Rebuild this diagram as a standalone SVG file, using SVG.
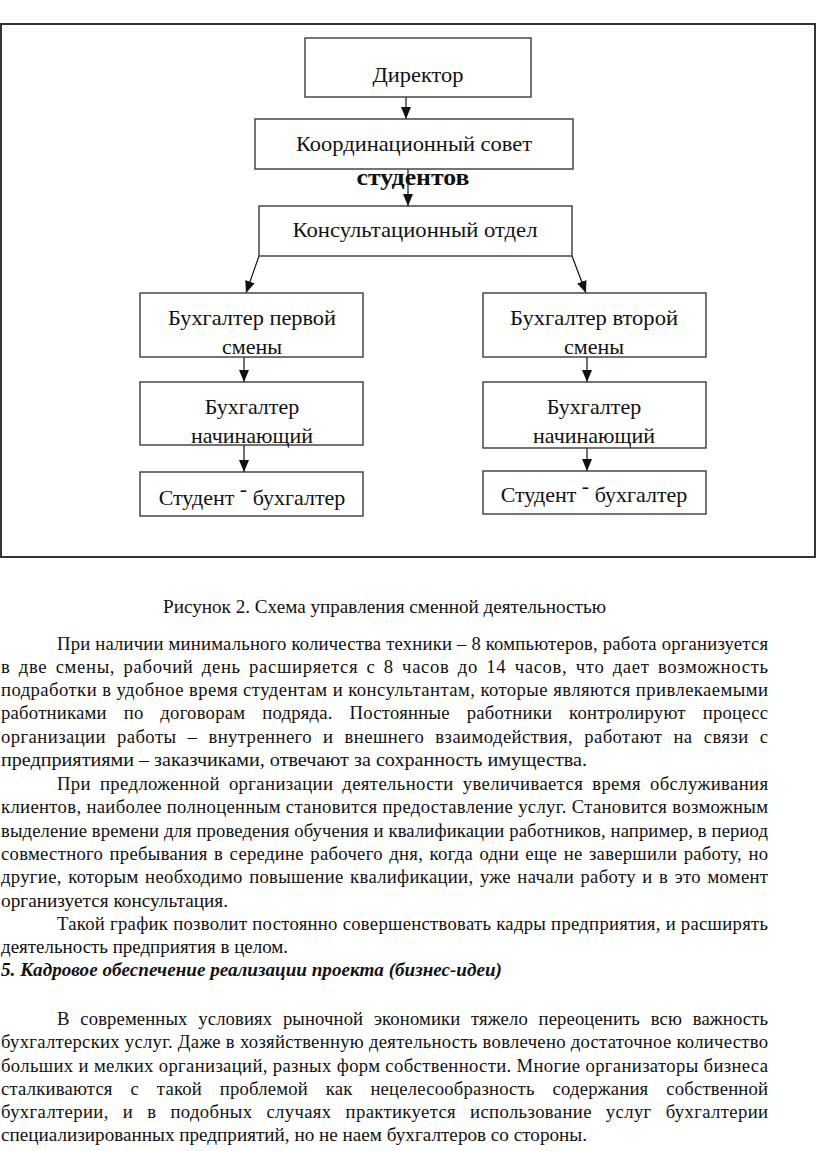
<svg xmlns="http://www.w3.org/2000/svg" width="816" height="1151" viewBox="0 0 816 1151">
<style>
.frame{fill:none;stroke:#333;stroke-width:2}
.box{fill:#fff;stroke:#3a3a3a;stroke-width:1.4}
.lbl{font-family:"Liberation Serif","Times New Roman",serif;font-size:22px;fill:#111;text-anchor:middle}
.bold{font-weight:bold;font-size:24px}
.conn{fill:none;stroke:#111;stroke-width:1.2}
.body{font-family:"Liberation Serif","Times New Roman",serif;font-size:18.67px;fill:#111}
.head{font-weight:bold;font-style:italic}
</style>
<defs>
<marker id="arrd" markerUnits="userSpaceOnUse" markerWidth="12" markerHeight="10" viewBox="0 0 12 10" refX="12" refY="5" orient="auto">
<path d="M0,0 L12,5 L0,10 Z" fill="#111"/>
</marker>
</defs>
<rect class="frame" x="1" y="24" width="814" height="533"/>
<g id="connectors">
<line class="conn" x1="406" y1="97" x2="406" y2="119" marker-end="url(#arrd)"/>
<line class="conn" x1="408" y1="169" x2="408" y2="206" marker-end="url(#arrd)"/>
<line class="conn" x1="259" y1="256" x2="246" y2="293" marker-end="url(#arrd)"/>
<line class="conn" x1="572" y1="256" x2="586" y2="293" marker-end="url(#arrd)"/>
<line class="conn" x1="244" y1="357" x2="244" y2="382" marker-end="url(#arrd)"/>
<line class="conn" x1="244" y1="445" x2="244" y2="472" marker-end="url(#arrd)"/>
<line class="conn" x1="587" y1="357" x2="587" y2="382" marker-end="url(#arrd)"/>
<line class="conn" x1="587" y1="448" x2="587" y2="471" marker-end="url(#arrd)"/>
</g>
<g id="director">
<rect class="box" x="305" y="38" width="226" height="59"/>
<text class="lbl" x="418" y="82" textLength="91" lengthAdjust="spacingAndGlyphs">Директор</text>
</g>
<g id="coord-council">
<rect class="box" x="255" y="119" width="318" height="50"/>
<text class="lbl" x="414" y="151" textLength="236" lengthAdjust="spacingAndGlyphs">Координационный совет</text>
<text class="lbl bold" x="413" y="185" textLength="113" lengthAdjust="spacingAndGlyphs">студентов</text>
</g>
<g id="consult-dept">
<rect class="box" x="259" y="206" width="313" height="50"/>
<text class="lbl" x="415" y="237" textLength="245" lengthAdjust="spacingAndGlyphs">Консультационный отдел</text>
</g>
<g id="acc-first-shift">
<rect class="box" x="140" y="293" width="223" height="64"/>
<text class="lbl" x="252" y="325" textLength="168" lengthAdjust="spacingAndGlyphs">Бухгалтер первой</text>
<text class="lbl" x="252" y="354">смены</text>
</g>
<g id="acc-second-shift">
<rect class="box" x="483" y="293" width="223" height="64"/>
<text class="lbl" x="594" y="325" textLength="168" lengthAdjust="spacingAndGlyphs">Бухгалтер второй</text>
<text class="lbl" x="594" y="354">смены</text>
</g>
<g id="acc-beginner-left">
<rect class="box" x="140" y="382" width="223" height="63"/>
<text class="lbl" x="252" y="414">Бухгалтер</text>
<text class="lbl" x="252" y="443">начинающий</text>
</g>
<g id="acc-beginner-right">
<rect class="box" x="483" y="382" width="223" height="66"/>
<text class="lbl" x="594" y="414">Бухгалтер</text>
<text class="lbl" x="594" y="443">начинающий</text>
</g>
<g id="student-left">
<rect class="box" x="140" y="472" width="223" height="44"/>
<text class="lbl" x="252" y="505">Студент <tspan dy="-9">-</tspan><tspan dy="9"> бухгалтер</tspan></text>
</g>
<g id="student-right">
<rect class="box" x="483" y="471" width="223" height="43"/>
<text class="lbl" x="594" y="502">Студент <tspan dy="-9">-</tspan><tspan dy="9"> бухгалтер</tspan></text>
</g>
<g id="body-text" class="body">
<text x="384.5" y="613" text-anchor="middle" textLength="443" lengthAdjust="spacingAndGlyphs">Рисунок 2. Схема управления сменной деятельностью</text>
<text x="57" y="650" textLength="711" lengthAdjust="spacing">При наличии минимального количества техники – 8 компьютеров, работа организуется</text>
<text x="1" y="673" word-spacing="3" textLength="767" lengthAdjust="spacing">в две смены, рабочий день расширяется с 8 часов до 14 часов, что дает возможность</text>
<text x="1" y="696" textLength="767" lengthAdjust="spacing">подработки в удобное время студентам и консультантам, которые являются привлекаемыми</text>
<text x="1" y="719" word-spacing="12" textLength="767" lengthAdjust="spacing">работниками по договорам подряда. Постоянные работники контролируют процесс</text>
<text x="1" y="743" word-spacing="6" textLength="767" lengthAdjust="spacing">организации работы – внутреннего и внешнего взаимодействия, работают на связи с</text>
<text x="1" y="766" textLength="586" lengthAdjust="spacingAndGlyphs">предприятиями – заказчиками, отвечают за сохранность имущества.</text>
<text x="57" y="790" word-spacing="4" textLength="711" lengthAdjust="spacing">При предложенной организации деятельности увеличивается время обслуживания</text>
<text x="1" y="813" textLength="767" lengthAdjust="spacing">клиентов, наиболее полноценным становится предоставление услуг. Становится возможным</text>
<text x="1" y="837" textLength="767" lengthAdjust="spacing">выделение времени для проведения обучения и квалификации работников, например, в период</text>
<text x="1" y="860" word-spacing="1.5" textLength="767" lengthAdjust="spacing">совместного пребывания в середине рабочего дня, когда одни еще не завершили работу, но</text>
<text x="1" y="883" word-spacing="1.5" textLength="767" lengthAdjust="spacing">другие, которым необходимо повышение квалификации, уже начали работу и в это момент</text>
<text x="1" y="907" textLength="227" lengthAdjust="spacingAndGlyphs">организуется консультация.</text>
<text x="57" y="930" textLength="711" lengthAdjust="spacing">Такой график позволит постоянно совершенствовать кадры предприятия, и расширять</text>
<text x="1" y="953" textLength="287" lengthAdjust="spacingAndGlyphs">деятельность предприятия в целом.</text>
<text class="head" x="1" y="976" textLength="501" lengthAdjust="spacingAndGlyphs">5. Кадровое обеспечение реализации проекта (бизнес-идеи)</text>
<text x="57" y="1025" word-spacing="6" textLength="711" lengthAdjust="spacing">В современных условиях рыночной экономики тяжело переоценить всю важность</text>
<text x="1" y="1048" textLength="767" lengthAdjust="spacing">бухгалтерских услуг. Даже в хозяйственную деятельность вовлечено достаточное количество</text>
<text x="1" y="1072" textLength="767" lengthAdjust="spacing">больших и мелких организаций, разных форм собственности. Многие организаторы бизнеса</text>
<text x="1" y="1095" word-spacing="13" textLength="767" lengthAdjust="spacing">сталкиваются с такой проблемой как нецелесообразность содержания собственной</text>
<text x="1" y="1118" word-spacing="9" textLength="767" lengthAdjust="spacing">бухгалтерии, и в подобных случаях практикуется использование услуг бухгалтерии</text>
<text x="1" y="1141" textLength="586" lengthAdjust="spacingAndGlyphs">специализированных предприятий, но не наем бухгалтеров со стороны.</text>
</g>
</svg>
